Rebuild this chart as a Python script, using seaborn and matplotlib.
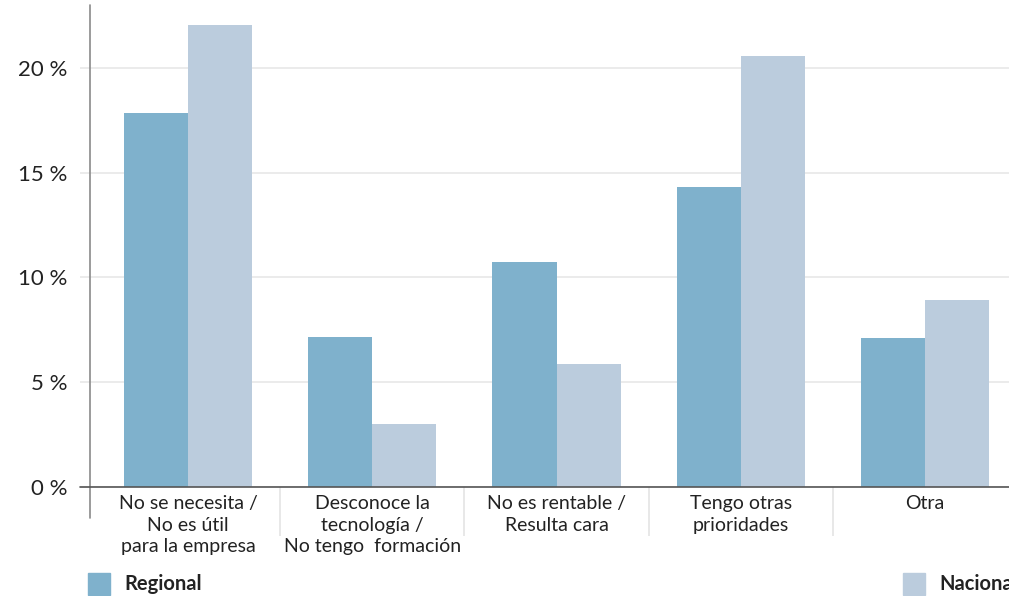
import matplotlib
matplotlib.use("Agg")
import matplotlib.pyplot as plt
from matplotlib.patches import Rectangle
import seaborn as sns
import pandas as pd

# Reasons for not adopting the technology, share of companies
categories = [
    "No se necesita /\nNo es útil\npara la empresa",
    "Desconoce la\ntecnología /\nNo tengo  formación",
    "No es rentable /\nResulta cara",
    "Tengo otras\nprioridades",
    "Otra",
]
regional = [17.85, 7.15, 10.75, 14.3, 7.1]
nacional = [22.05, 3.0, 5.85, 20.55, 8.9]
series_names = ["Regional", "Nacional"]
y_ticks = [0, 5, 10, 15, 20]
y_tick_labels = ["0 %", "5 %", "10 %", "15 %", "20 %"]

colors = {"Regional": "#7fb1cc", "Nacional": "#bbccdd"}

df = pd.DataFrame({
    "categoria": categories * 2,
    "serie": [series_names[0]] * len(categories) + [series_names[1]] * len(categories),
    "valor": regional + nacional,
})

sns.set_theme(style="white")
plt.rcParams["font.family"] = ["Lato", "DejaVu Sans"]

W, H = 1009, 596
fig = plt.figure(figsize=(W / 100, H / 100), dpi=100)
ax = fig.add_axes([90 / W, (H - 487) / H, (W - 90) / W, 482 / H])

sns.barplot(data=df, x="categoria", y="valor", hue="serie", order=categories,
            hue_order=series_names, palette=colors, width=0.695, gap=0,
            saturation=1, linewidth=0, legend=False, ax=ax)

ax.set_xlim(-0.532, 4.456)
ax.set_ylim(0, 23)
ax.set_xlabel("")
ax.set_ylabel("")

# horizontal grid
ax.set_yticks(y_ticks)
ax.set_yticklabels(y_tick_labels, fontsize=16, color="#222222")
ax.yaxis.grid(True, color="#e8e8e8", linewidth=1.2)
ax.set_axisbelow(True)
ax.tick_params(axis="y", which="major", length=7, color="#e8e8e8", width=1.2, pad=9, left=True)

# category labels and separators under the axis
ax.set_xticks(range(len(categories)))
ax.set_xticklabels(categories, fontsize=14, color="#222222", linespacing=1.3)
ax.tick_params(axis="x", which="major", length=0, pad=6)
ax.set_xticks([i + 0.5 for i in range(len(categories) - 1)], minor=True)
ax.tick_params(axis="x", which="minor", length=35, color="#e4e4e4", width=1.2, bottom=True, direction="out")

for s in ["top", "right", "left", "bottom"]:
    ax.spines[s].set_visible(False)

# axis lines, slightly extended past the plot corner
ax.plot([0, 0], [-0.064, 1], transform=ax.transAxes, color="#8a8a8a", lw=1.2, clip_on=False, zorder=5)
ax.plot([-0.011, 1], [0, 0], transform=ax.transAxes, color="#555555", lw=1.2, clip_on=False, zorder=5)

# legend along the bottom edge
for name, x0 in zip(series_names, [88, 903]):
    fig.patches.append(Rectangle((x0 / W, 1 - 595 / H), 22 / W, 22 / H,
                                 transform=fig.transFigure, color=colors[name]))
    fig.text((x0 + 36) / W, 1 - 584 / H, name, fontsize=14.5, fontweight="bold",
             color="#222222", va="center", ha="left")

fig.savefig("out.png", dpi=100)
